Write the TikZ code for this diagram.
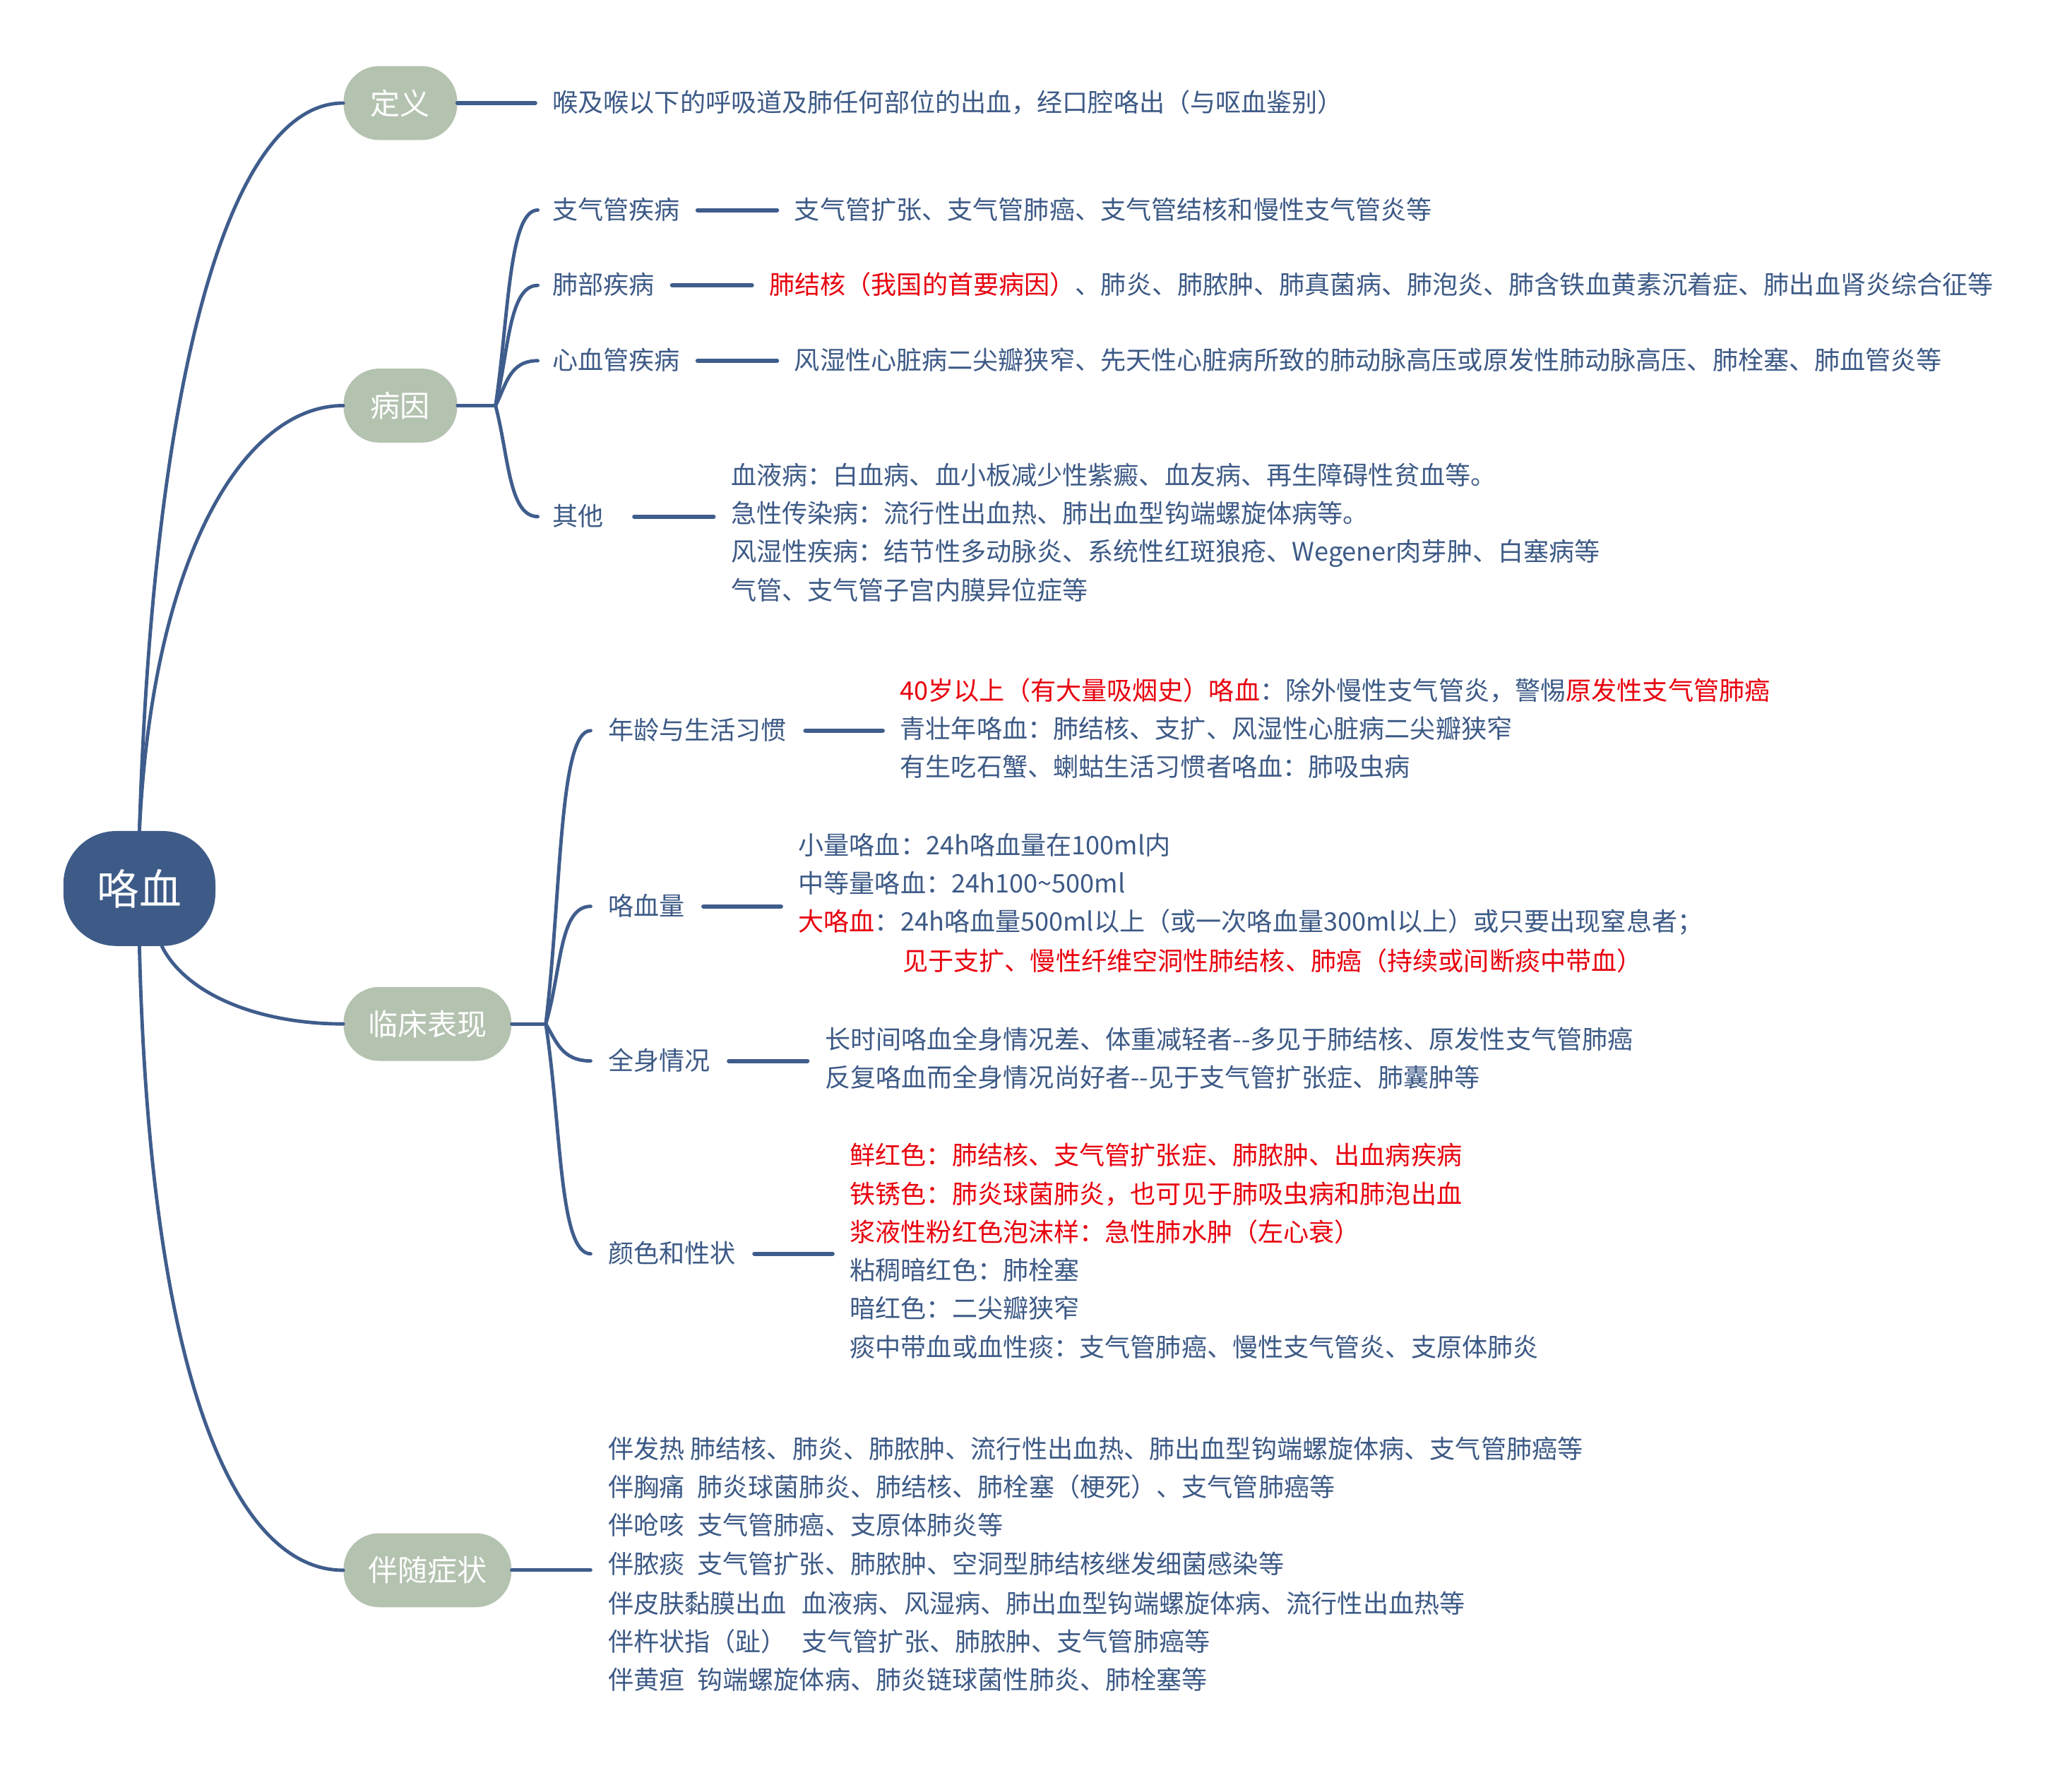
\documentclass[tikz,border=0pt]{standalone}
\usepackage{fontspec}
\setmainfont{Noto Sans CJK SC}
\usetikzlibrary{calc}
\definecolor{lineblue}{HTML}{3F5D8C}
\definecolor{txtblue}{HTML}{3D5A86}
\definecolor{rootblue}{HTML}{3E5B88}
\definecolor{sage}{HTML}{B4C2B0}
\definecolor{hired}{HTML}{E8000D}
\newcommand{\rd}[1]{\textcolor{hired}{#1}}
\begin{document}
\begin{tikzpicture}[x=1pt,y=-1pt,
 conn/.style={draw=lineblue,line width=2.6pt,line cap=round},
 dashline/.style={draw=lineblue,line width=3.2pt,line cap=round},
 rootnode/.style={fill=rootblue,text=white,rounded corners=40pt,minimum width=115pt,minimum height=87pt,font=\fontsize{32}{32}\selectfont,inner sep=0pt},
 topic/.style={fill=sage,text=white,rounded corners=27pt,minimum height=56pt,font=\fontsize{22.5}{22.5}\selectfont,inner sep=0pt},
 subtxt/.style={anchor=west,inner sep=0pt,text=txtblue,font=\fontsize{19.3}{19.3}\selectfont,text height=16.4pt,text depth=2.9pt},
]
\useasboundingbox (0,0) rectangle (1568,1347);

% root and main topics
\node[rootnode] (root) at (105.5,672.5) {咯血};
\node[topic,minimum width=86pt] (def) at (303,78) {定义};
\node[topic,minimum width=86pt] (cause) at (303,307) {病因};
\node[topic,minimum width=127pt] (clin) at (323.5,775) {临床表现};
\node[topic,minimum width=127pt] (acc) at (323.5,1188.5) {伴随症状};

\coordinate (hubA) at (375,307);
\coordinate (hubB) at (413,775);

% definition
\node[subtxt] (d0) at (418,78) {喉及喉以下的呼吸道及肺任何部位的出血，经口腔咯出（与呕血鉴别）};

% causes
\node[subtxt] (cb) at (418,159) {支气管疾病};
\node[subtxt] (cl) at (418,216) {肺部疾病};
\node[subtxt] (cc) at (418,273) {心血管疾病};
\node[subtxt] (co) at (418,391) {其他};

\node[subtxt] (d1) at (601,159) {支气管扩张、支气管肺癌、支气管结核和慢性支气管炎等};
\node[subtxt] (d2) at (582,216) {\rd{肺结核（我国的首要病因）}、肺炎、肺脓肿、肺真菌病、肺泡炎、肺含铁血黄素沉着症、肺出血肾炎综合征等};
\node[subtxt] (d3) at (601,273) {风湿性心脏病二尖瓣狭窄、先天性心脏病所致的肺动脉高压或原发性肺动脉高压、肺栓塞、肺血管炎等};
\node[subtxt] (o1) at (553,360) {血液病：白血病、血小板减少性紫癜、血友病、再生障碍性贫血等。};
\node[subtxt] (o2) at (553,389) {急性传染病：流行性出血热、肺出血型钩端螺旋体病等。};
\node[subtxt] (o3) at (553,418) {风湿性疾病：结节性多动脉炎、系统性红斑狼疮、Wegener肉芽肿、白塞病等};
\node[subtxt] (o4) at (553,447) {气管、支气管子宫内膜异位症等};

% clinical
\node[subtxt] (ca) at (460,553) {年龄与生活习惯};
\node[subtxt] (cv) at (460,686) {咯血量};
\node[subtxt] (cg) at (460,803) {全身情况};
\node[subtxt] (cs) at (460,949) {颜色和性状};

\node[subtxt] (a1) at (681,523) {\rd{40岁以上（有大量吸烟史）咯血}：除外慢性支气管炎，警惕\rd{原发性支气管肺癌}};
\node[subtxt] (a2) at (681,552) {青壮年咯血：肺结核、支扩、风湿性心脏病二尖瓣狭窄};
\node[subtxt] (a3) at (681,581) {有生吃石蟹、蝲蛄生活习惯者咯血：肺吸虫病};

\node[subtxt] (v1) at (604,640) {小量咯血：24h咯血量在100ml内};
\node[subtxt] (v2) at (604,669) {中等量咯血：24h100\textasciitilde500ml};
\node[subtxt] (v3) at (604,698) {\rd{大咯血}：24h咯血量500ml以上（或一次咯血量300ml以上）或只要出现窒息者；};
\node[subtxt] (v4) at (683,728) {\rd{见于支扩、慢性纤维空洞性肺结核、肺癌（持续或间断痰中带血）}};

\node[subtxt] (g1) at (624,787) {长时间咯血全身情况差、体重减轻者-{}-多见于肺结核、原发性支气管肺癌};
\node[subtxt] (g2) at (624,816) {反复咯血而全身情况尚好者-{}-见于支气管扩张症、肺囊肿等};

\node[subtxt] (s1) at (643,875) {\rd{鲜红色：肺结核、支气管扩张症、肺脓肿、出血病疾病}};
\node[subtxt] (s2) at (643,904) {\rd{铁锈色：肺炎球菌肺炎，也可见于肺吸虫病和肺泡出血}};
\node[subtxt] (s3) at (643,933) {\rd{浆液性粉红色泡沫样：急性肺水肿（左心衰）}};
\node[subtxt] (s4) at (643,962) {粘稠暗红色：肺栓塞};
\node[subtxt] (s5) at (643,991) {暗红色：二尖瓣狭窄};
\node[subtxt] (s6) at (643,1020) {痰中带血或血性痰：支气管肺癌、慢性支气管炎、支原体肺炎};

% accompanying symptoms
\node[subtxt] (b1) at (460,1097) {伴发热 肺结核、肺炎、肺脓肿、流行性出血热、肺出血型钩端螺旋体病、支气管肺癌等};
\node[subtxt] (b2) at (460,1126) {伴胸痛\hspace{0.5em}肺炎球菌肺炎、肺结核、肺栓塞（梗死）、支气管肺癌等};
\node[subtxt] (b3) at (460,1155) {伴呛咳\hspace{0.5em}支气管肺癌、支原体肺炎等};
\node[subtxt] (b4) at (460,1184) {伴脓痰\hspace{0.5em}支气管扩张、肺脓肿、空洞型肺结核继发细菌感染等};
\node[subtxt] (b5) at (460,1214) {伴皮肤黏膜出血\hspace{0.6em}血液病、风湿病、肺出血型钩端螺旋体病、流行性出血热等};
\node[subtxt] (b6) at (460,1243) {伴杵状指（趾）\hspace{0.6em}支气管扩张、肺脓肿、支气管肺癌等};
\node[subtxt] (b7) at (460,1272) {伴黄疸\hspace{0.5em}钩端螺旋体病、肺炎链球菌性肺炎、肺栓塞等};

% root connectors
\draw[conn] (root.north) .. controls +(10,-329) and +(-90,0) .. (def.west);
\draw[conn] (root.north) .. controls +(10,-209) and +(-75,0) .. (cause.west);
\draw[conn] ([xshift=17pt]root.south) .. controls +(18,36) and +(-65,0) .. (clin.west);
\draw[conn] (root.south) .. controls +(8,334) and +(-80,0) .. (acc.west);

% definition line
\draw[dashline] (def.east) -- ([xshift=-13pt]d0.west);

% cause branch
\draw[conn] (cause.east) -- (hubA);
\draw[conn] (hubA) .. controls +(10,-67) and +(-22,0) .. ([xshift=-11pt]cb.west);
\draw[conn] (hubA) .. controls +(10,-41) and +(-22,0) .. ([xshift=-11pt]cl.west);
\draw[conn] (hubA) .. controls +(8,-15) and +(-22,0) .. ([xshift=-11pt]cc.west);
\draw[conn] (hubA) .. controls +(10,38) and +(-22,0) .. ([xshift=-11pt]co.west);
\draw[dashline] ([xshift=13pt]cb.east) -- ([xshift=-13pt]d1.west);
\draw[dashline] ([xshift=13pt]cl.east) -- ([xshift=-13pt]d2.west);
\draw[dashline] ([xshift=13pt]cc.east) -- ([xshift=-13pt]d3.west);
\draw[dashline] ([xshift=23pt]co.east) -- ($(co.east -| o1.west)+(-13,0)$);

% clinical branch
\draw[conn] (clin.east) -- (hubB);
\draw[conn] (hubB) .. controls +(12,-100) and +(-24,0) .. ([xshift=-13pt]ca.west);
\draw[conn] (hubB) .. controls +(12,-40) and +(-24,0) .. ([xshift=-13pt]cv.west);
\draw[conn] (hubB) .. controls +(8,13) and +(-22,0) .. ([xshift=-13pt]cg.west);
\draw[conn] (hubB) .. controls +(12,78) and +(-24,0) .. ([xshift=-13pt]cs.west);
\draw[dashline] ([xshift=14pt]ca.east) -- ($(ca.east -| a1.west)+(-13,0)$);
\draw[dashline] ([xshift=14pt]cv.east) -- ($(cv.east -| v1.west)+(-13,0)$);
\draw[dashline] ([xshift=14pt]cg.east) -- ($(cg.east -| g1.west)+(-13,0)$);
\draw[dashline] ([xshift=14pt]cs.east) -- ($(cs.east -| s1.west)+(-13,0)$);

% accompanying
\draw[conn] (acc.east) -- ($(acc.east -| b1.west)+(-13,0)$);
\end{tikzpicture}
\end{document}
